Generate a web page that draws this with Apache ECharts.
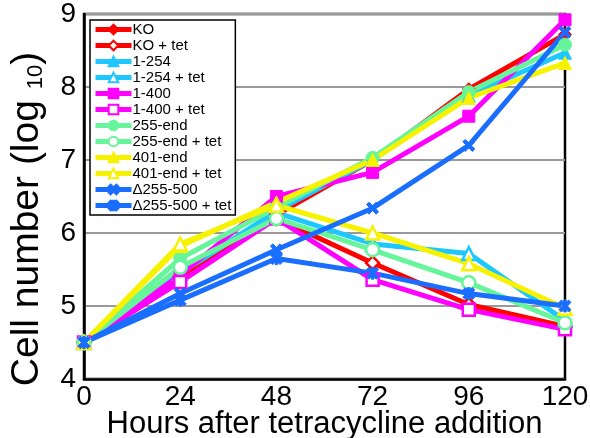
<!DOCTYPE html>
<html>
<head>
<meta charset="utf-8">
<script src="https://cdn.jsdelivr.net/npm/echarts@6/dist/echarts.min.js"></script>
<style>
  html, body { margin: 0; padding: 0; background: #fff; }
  #chart { width: 590px; height: 438px; }
</style>
</head>
<body>
<div id="chart"></div>
<script>
// hours after tetracycline addition
const hours = [0, 24, 48, 72, 96, 120];
const yTicks = [4, 5, 6, 7, 8, 9];

// log10 cell numbers
const ko         = [4.5, 5.40, 6.25, 7.00, 7.97, 8.72];
const koTet      = [4.5, 5.40, 6.20, 5.59, 5.02, 4.72];
const r1_254     = [4.5, 5.45, 6.30, 7.00, 7.88, 8.47];
const r1_254Tet  = [4.5, 5.45, 6.28, 5.85, 5.72, 4.80];
const r1_400     = [4.5, 5.42, 6.50, 6.83, 7.60, 8.92];
const r1_400Tet  = [4.5, 5.33, 6.20, 5.36, 4.95, 4.68];
const r255end    = [4.5, 5.65, 6.35, 7.03, 7.93, 8.58];
const r255endTet = [4.5, 5.53, 6.20, 5.77, 5.32, 4.77];
const r401end    = [4.5, 5.82, 6.42, 7.00, 7.85, 8.33];
const r401endTet = [4.5, 5.85, 6.38, 6.00, 5.58, 4.97];
const d255       = [4.5, 5.17, 5.77, 6.34, 7.20, 8.75];
const d255Tet    = [4.5, 5.08, 5.65, 5.45, 5.17, 5.00];

const RED = '#ff0000', CYAN = '#1ec8ff', MAG = '#ff00ff',
      GREEN = '#66f59a', YEL = '#f7f200', BLUE = '#1a6eff';
const FONT = 'Liberation Sans, Arial, sans-serif';

const X_SYM = 'path://M0,2L2,0L5,3L8,0L10,2L7,5L10,8L8,10L5,7L2,10L0,8L3,5Z';
const AST_SYM = 'path://M0,2L2,0L5,3L8,0L10,2L7,5L10,8L8,10L5,7L2,10L0,8L3,5Z M4,0L6,0L6,10L4,10Z';

function mk(name, vals, color, symbol, open, size) {
  return {
    name: name,
    type: 'line',
    data: hours.map((h, i) => [h, vals[i]]),
    symbol: symbol,
    symbolSize: size || 13,
    showAllSymbol: true,
    lineStyle: { color: color, width: 5 },
    itemStyle: open
      ? { color: '#fff', borderColor: color, borderWidth: 2.5 }
      : { color: color, borderColor: color, borderWidth: 1 },
    emphasis: { disabled: true },
    animation: false
  };
}

const series = [
  mk('KO', ko, RED, 'diamond', false),
  mk('KO + tet', koTet, RED, 'diamond', true),
  mk('1-254', r1_254, CYAN, 'triangle', false),
  mk('1-254 + tet', r1_254Tet, CYAN, 'triangle', true),
  mk('1-400', r1_400, MAG, 'rect', false, 12),
  mk('1-400 + tet', r1_400Tet, MAG, 'rect', true, 12),
  mk('255-end', r255end, GREEN, 'circle', false),
  mk('255-end + tet', r255endTet, GREEN, 'circle', true),
  mk('401-end', r401end, YEL, 'triangle', false),
  mk('401-end + tet', r401endTet, YEL, 'triangle', true),
  mk('Δ255-500', d255, BLUE, X_SYM, false, 12),
  mk('Δ255-500 + tet', d255Tet, BLUE, AST_SYM, false, 12)
];

const chart = echarts.init(document.getElementById('chart'), null, { renderer: 'canvas' });
chart.setOption({
  animation: false,
  textStyle: { fontFamily: FONT },
  grid: {
    left: 84, right: 25, top: 14, bottom: 59,
    outerBoundsMode: 'none',
    containLabel: false,
    show: true, borderColor: '#000', borderWidth: 2.5, backgroundColor: 'transparent'
  },
  legend: {
    orient: 'vertical',
    left: 90, top: 20,
    itemWidth: 36, itemHeight: 12, itemGap: 1,
    padding: [2, 4, 2, 3],
    backgroundColor: '#fff',
    borderColor: '#000', borderWidth: 1.5,
    lineStyle: { width: 5 },
    textStyle: { fontSize: 15, color: '#000', padding: [0, 0, 0, -4] },
    data: series.map(s => s.name)
  },
  xAxis: {
    type: 'value',
    min: 0, max: 120, interval: 24,
    name: 'Hours after tetracycline addition',
    nameLocation: 'middle', nameGap: 30,
    nameMoveOverlap: false,
    nameTextStyle: { fontSize: 31, color: '#000' },
    axisLine: { show: true, lineStyle: { color: '#000', width: 2.5 } },
    axisTick: { show: false },
    axisLabel: { fontSize: 28, color: '#000', margin: 4 },
    splitLine: { show: false }
  },
  yAxis: {
    type: 'value',
    min: yTicks[0], max: yTicks[yTicks.length - 1], interval: 1,
    name: '{a|Cell number (log }{s|10}{a|)}',
    nameLocation: 'middle', nameGap: 37,
    nameMoveOverlap: false,
    nameTextStyle: {
      color: '#000',
      padding: [0, 45, 0, 0],
      rich: {
        a: { fontSize: 39, color: '#000', fontFamily: FONT },
        s: { fontSize: 22, color: '#000', verticalAlign: 'bottom', padding: [14, 0, 0, 0], fontFamily: FONT }
      }
    },
    axisLine: { show: true, lineStyle: { color: '#000', width: 2.5 } },
    axisTick: { show: false },
    axisLabel: { fontSize: 28, color: '#000', margin: 8 },
    splitLine: { show: true, lineStyle: { color: '#999', width: 2 } }
  },
  series: series
});
</script>
</body>
</html>
